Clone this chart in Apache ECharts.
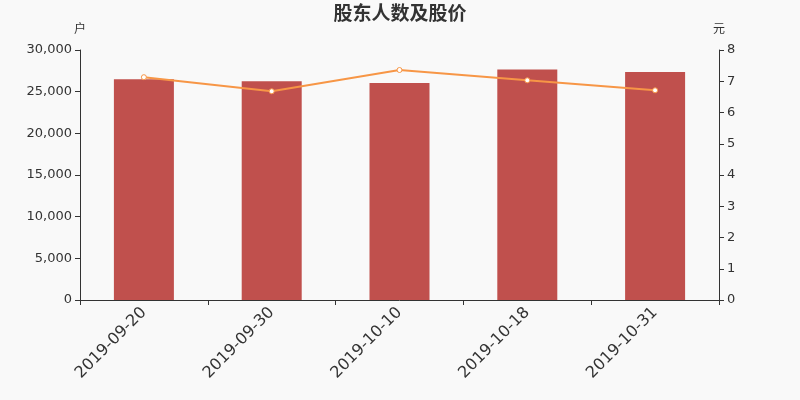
<!DOCTYPE html>
<html><head><meta charset="utf-8">
<script src="https://cdn.jsdelivr.net/npm/echarts@6/dist/echarts.min.js"></script>
<style>html,body{margin:0;padding:0;background:#f9f9f9}#c{width:800px;height:400px}</style>
</head><body><div id="c"></div>
<script>
var categories = ['2019-09-20','2019-09-30','2019-10-10','2019-10-18','2019-10-31'];
var holders = [26500, 26250, 26050, 27650, 27350];
var prices = [7.13, 6.68, 7.36, 7.03, 6.71];
var chart = echarts.init(document.getElementById('c'));
var font = '"DejaVu Sans", "Noto Sans CJK SC", sans-serif';
chart.setOption({
  backgroundColor: '#f9f9f9',
  textStyle: {fontFamily: font},
  title: {text: '股东人数及股价', left: 'center', top: 1, textStyle: {fontSize: 19, fontWeight: 'bold', color: '#333', fontFamily: font}},
  grid: {left: 80, right: 81, top: 50, bottom: 100},
  xAxis: {type: 'category', data: categories,
    axisLine: {lineStyle: {color: '#333'}},
    axisTick: {show: true, lineStyle: {color: '#333'}},
    axisLabel: {rotate: 45, fontSize: 16, color: '#333', margin: 10, fontFamily: font}},
  yAxis: [
    {type: 'value', name: '户', min: 0, max: 30000, interval: 5000,
     nameTextStyle: {color: '#333', fontSize: 12, padding: [0, 0, 0, 0]}, nameGap: 14,
     axisLine: {show: true, lineStyle: {color: '#333'}}, axisTick: {show: true},
     splitLine: {show: false},
     axisLabel: {color: '#333', fontSize: 13, formatter: function(v){return v.toLocaleString('en-US');}}},
    {type: 'value', name: '元', min: 0, max: 8, interval: 1, position: 'right',
     nameTextStyle: {color: '#333', fontSize: 12, padding: [0, 0, 0, 0]}, nameGap: 14,
     axisLine: {show: true, lineStyle: {color: '#333'}}, axisTick: {show: true},
     splitLine: {show: false},
     axisLabel: {color: '#333', fontSize: 13}}
  ],
  series: [
    {type: 'bar', data: holders, barWidth: 60, itemStyle: {color: '#c0504d'}},
    {type: 'line', yAxisIndex: 1, data: prices, symbol: 'circle', symbolSize: 5,
     lineStyle: {color: '#f79646', width: 2},
     itemStyle: {color: '#fff', borderColor: '#f79646', borderWidth: 1}}
  ]
});
</script></body></html>
